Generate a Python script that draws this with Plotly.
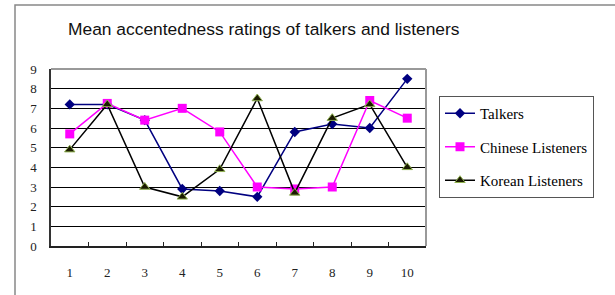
import plotly.graph_objects as go

categories = ["1", "2", "3", "4", "5", "6", "7", "8", "9", "10"]
talkers = [7.2, 7.2, 6.4, 2.9, 2.8, 2.5, 5.8, 6.2, 6.0, 8.5]
chinese = [5.7, 7.25, 6.4, 7.0, 5.8, 3.0, 2.9, 3.0, 7.4, 6.5]
korean = [4.9, 7.2, 3.0, 2.5, 3.9, 7.5, 2.7, 6.5, 7.2, 4.0]
y_ticks = [0, 1, 2, 3, 4, 5, 6, 7, 8, 9]

W, H = 615, 295
L, R, T, B = 51, 426, 69, 246
pw, ph = R - L, B - T

fig = go.Figure()
fig.add_trace(go.Scatter(
    x=categories, y=talkers, name="Talkers", mode="lines+markers",
    line=dict(color="#000080", width=1.5),
    marker=dict(symbol="diamond", size=8, color="#000080"),
    legendgroup="a"))
fig.add_trace(go.Scatter(
    x=categories, y=chinese, name="Chinese Listeners", mode="lines+markers",
    line=dict(color="#FF00FF", width=1.5),
    marker=dict(symbol="square", size=9, color="#FF00FF"),
    legendgroup="b"))
fig.add_trace(go.Scatter(
    x=categories, y=korean, name="Korean Listeners", mode="lines+markers",
    line=dict(color="#000000", width=1.5),
    marker=dict(symbol="triangle-up", size=9, color="#1a1a00",
                line=dict(color="#8fb050", width=1)),
    legendgroup="c"))

fig.update_layout(
    width=W, height=H,
    margin=dict(l=L, r=W - R, t=T, b=H - B, pad=0),
    paper_bgcolor="white", plot_bgcolor="white",
    showlegend=True,
    title=dict(text="Mean accentedness ratings of talkers and listeners",
               x=68 / W, xanchor="left", y=1 - 29 / H, yanchor="middle",
               font=dict(family="Liberation Sans, Arial", size=17.4, color="#111")),
    legend=dict(x=(439 - L) / pw, xanchor="left", y=(B - 96) / ph, yanchor="top",
                bgcolor="white", bordercolor="#555", borderwidth=1,
                font=dict(family="Liberation Serif, Times New Roman", size=15, color="#000"),
                tracegroupgap=11, traceorder="grouped",
                itemwidth=30),
    xaxis=dict(type="category", range=[-0.5, 9.5], showgrid=False,
               showline=True, linecolor="#222", linewidth=1.5,
               tickson="boundaries", ticks="inside", ticklen=4, tickcolor="#222",
               tickfont=dict(family="Liberation Serif, Times New Roman", size=13, color="#222"),
               ticklabelstandoff=14, zeroline=False),
    yaxis=dict(range=[0, 9], tickvals=y_ticks, showgrid=True, gridcolor="#000", gridwidth=1,
               showline=True, linecolor="#333", linewidth=1.5, ticks="",
               tickfont=dict(family="Liberation Serif, Times New Roman", size=13, color="#222"),
               ticklabelstandoff=10, zeroline=False),
    shapes=[
        dict(type="line", xref="x domain", yref="y domain", x0=0, x1=1, y0=1, y1=1,
             line=dict(color="#999", width=2), layer="above"),
        dict(type="line", xref="x domain", yref="y domain", x0=1, x1=1, y0=0, y1=1,
             line=dict(color="#999", width=2), layer="above"),
        dict(type="rect", xref="paper", yref="paper",
             x0=(15 - L) / pw, x1=(640 - L) / pw,
             y0=(B - 320) / ph, y1=(B - 5) / ph,
             line=dict(color="#888", width=1.5), layer="below"),
    ],
)

fig.write_html("out.html", config={"displayModeBar": False},
               post_script="document.body.style.margin='0';")
